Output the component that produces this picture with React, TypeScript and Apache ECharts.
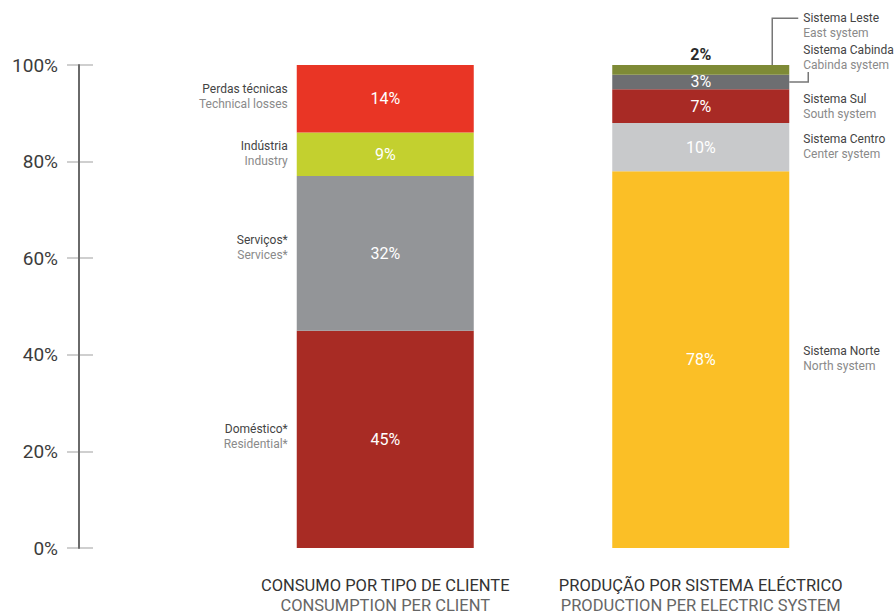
import React, { useEffect, useRef } from "react";
import * as echarts from "echarts";

// ---- data ----
const categoriesPt = ["CONSUMO POR TIPO DE CLIENTE", "PRODUÇÃO POR SISTEMA ELÉCTRICO"];
const categoriesEn = ["CONSUMPTION PER CLIENT", "PRODUCTION PER ELECTRIC SYSTEM"];

// bottom to top
const consumoPt = ["Doméstico*", "Serviços*", "Indústria", "Perdas técnicas"];
const consumoEn = ["Residential*", "Services*", "Industry", "Technical losses"];
const consumoValues = [45, 32, 9, 14];

const producaoPt = ["Sistema Norte", "Sistema Centro", "Sistema Sul", "Sistema Cabinda", "Sistema Leste"];
const producaoEn = ["North system", "Center system", "South system", "Cabinda system", "East system"];
const producaoValues = [78, 10, 7, 3, 2];

const yTicks = [0, 20, 40, 60, 80, 100];

// ---- styles ----
const consumoColors = ["#a82b24", "#939598", "#c3d02f", "#e93525"];
const producaoColors = ["#fbbf26", "#c8c9cb", "#a82a25", "#6d6e71", "#7e8a36"];
const consumoNameDy = [-3, -6, -1, -2];
const producaoNameDy = [-1, -1, 0, -24, -44];

const FONT = "Roboto, 'DejaVu Sans', sans-serif";
const BAR_W = 177;

const nameRich = {
  a: { fontSize: 12, color: "#444", lineHeight: 15, fontFamily: FONT },
  b: { fontSize: 12, color: "#8a8a8a", lineHeight: 15, fontFamily: FONT },
};

function buildSeries() {
  const series: any[] = [];
  consumoValues.forEach((v, i) => {
    series.push({
      type: "bar",
      xAxisIndex: 1,
      yAxisIndex: 2,
      stack: "consumo",
      barWidth: BAR_W,
      barGap: "-100%",
      silent: true,
      data: [v, "-"],
      itemStyle: { color: consumoColors[i] },
      label: {
        show: true,
        position: "inside",
        formatter: v + "%",
        color: "#fff",
        fontSize: 16,
        fontFamily: FONT,
      },
    });
  });
  consumoValues.forEach((v, i) => {
    series.push({
      type: "bar",
      xAxisIndex: 1,
      yAxisIndex: 2,
      stack: "consumoNames",
      barWidth: BAR_W,
      barGap: "-100%",
      silent: true,
      data: [v, "-"],
      itemStyle: { color: "transparent" },
      label: {
        show: true,
        position: "left",
        distance: 9,
        offset: [0, consumoNameDy[i]],
        align: "right",
        formatter: `{a|${consumoPt[i]}}\n{b|${consumoEn[i]}}`,
        rich: nameRich,
      },
    });
  });
  producaoValues.forEach((v, i) => {
    const isTop = i === producaoValues.length - 1;
    series.push({
      type: "bar",
      xAxisIndex: 1,
      yAxisIndex: 2,
      stack: "producao",
      barWidth: BAR_W,
      barGap: "-100%",
      silent: true,
      data: ["-", v],
      itemStyle: { color: producaoColors[i] },
      label: {
        show: true,
        position: isTop ? "top" : "inside",
        distance: 3,
        formatter: v + "%",
        color: isTop ? "#2a2a2a" : "#fff",
        fontWeight: isTop ? "bold" : "normal",
        fontSize: 16,
        fontFamily: FONT,
      },
    });
  });
  producaoValues.forEach((v, i) => {
    series.push({
      type: "bar",
      xAxisIndex: 1,
      yAxisIndex: 2,
      stack: "producaoNames",
      barWidth: BAR_W,
      barGap: "-100%",
      silent: true,
      data: ["-", v],
      itemStyle: { color: "transparent" },
      label: {
        show: true,
        position: "right",
        distance: 14,
        offset: [0, producaoNameDy[i]],
        align: "left",
        formatter: `{a|${producaoPt[i]}}\n{b|${producaoEn[i]}}`,
        rich: nameRich,
      },
    });
  });
  return series;
}

export default function App() {
  const ref = useRef<HTMLDivElement>(null);
  useEffect(() => {
    if (!ref.current) return;
    const chart = echarts.init(ref.current, null, { renderer: "svg" });
    const option: any = {
      animation: false,
      backgroundColor: "#fff",
      textStyle: { fontFamily: FONT },
      grid: [
        { left: 67, width: 26, top: 65, height: 483 },
        { left: 227.5, width: 631, top: 65, height: 483 },
      ],
      xAxis: [
        { type: "value", gridIndex: 0, show: false },
        {
          type: "category",
          gridIndex: 1,
          data: categoriesPt.map((c, i) => c + "|" + categoriesEn[i]),
          axisLine: { show: false },
          axisTick: { show: false },
          axisLabel: {
            margin: 27,
            formatter: (val: string) => {
              const [pt, en] = val.split("|");
              return `{a|${pt}}\n{b|${en}}`;
            },
            rich: {
              a: { fontSize: 16.5, color: "#333", lineHeight: 20, fontFamily: FONT },
              b: { fontSize: 16.5, color: "#666", lineHeight: 20, fontFamily: FONT },
            },
          },
        },
      ],
      yAxis: [
        {
          type: "value",
          gridIndex: 0,
          min: yTicks[0],
          max: yTicks[yTicks.length - 1],
          interval: 20,
          axisLine: { show: false },
          axisTick: { show: false },
          splitLine: { show: true, lineStyle: { color: "#cfcfcf", width: 2 } },
          axisLabel: {
            margin: 9,
            formatter: "{value}%",
            fontSize: 19,
            color: "#3c3c3c",
            fontFamily: FONT,
          },
        },
        {
          type: "value",
          gridIndex: 0,
          min: 0,
          max: 100,
          position: "left",
          offset: -12,
          axisLine: { show: true, lineStyle: { color: "#6a6a6a", width: 2 } },
          axisTick: { show: false },
          axisLabel: { show: false },
          splitLine: { show: false },
        },
        { type: "value", gridIndex: 1, min: 0, max: 100, show: false },
      ],
      series: buildSeries(),
    };
    chart.setOption(option);

    // leader lines for the two thin segments of the production bar
    const cum: number[] = [];
    producaoValues.reduce((acc, v) => {
      cum.push(acc + v / 2);
      return acc + v;
    }, 0);
    const toPx = (v: number) => chart.convertToPixel({ gridIndex: 1 } as any, [1, v]) as number[];
    const nL = producaoValues.length;
    const lesteMid = toPx(cum[nL - 1]);
    const cabindaMid = toPx(cum[nL - 2]);
    const barRight = lesteMid[0] + BAR_W / 2;
    const lesteLabelY = lesteMid[1] + producaoNameDy[nL - 1] - 7.5;
    const cabindaLabelBottom = cabindaMid[1] + producaoNameDy[nL - 2] + 14;
    chart.setOption({
      graphic: [
        {
          type: "polyline",
          silent: true,
          shape: {
            points: [
              [barRight - 17, lesteMid[1] - 1],
              [barRight - 17, lesteLabelY],
              [barRight + 9, lesteLabelY],
            ],
          },
          style: { stroke: "#777", lineWidth: 1.5, fill: "none" },
        },
        {
          type: "polyline",
          silent: true,
          shape: {
            points: [
              [barRight, cabindaMid[1]],
              [barRight + 19, cabindaMid[1]],
              [barRight + 19, cabindaLabelBottom],
            ],
          },
          style: { stroke: "#777", lineWidth: 1.5, fill: "none" },
        },
      ],
    });
    return () => chart.dispose();
  }, []);
  return (
    <div
      ref={ref}
      style={{ position: "fixed", left: 0, top: 0, width: 894, height: 614 }}
    />
  );
}
